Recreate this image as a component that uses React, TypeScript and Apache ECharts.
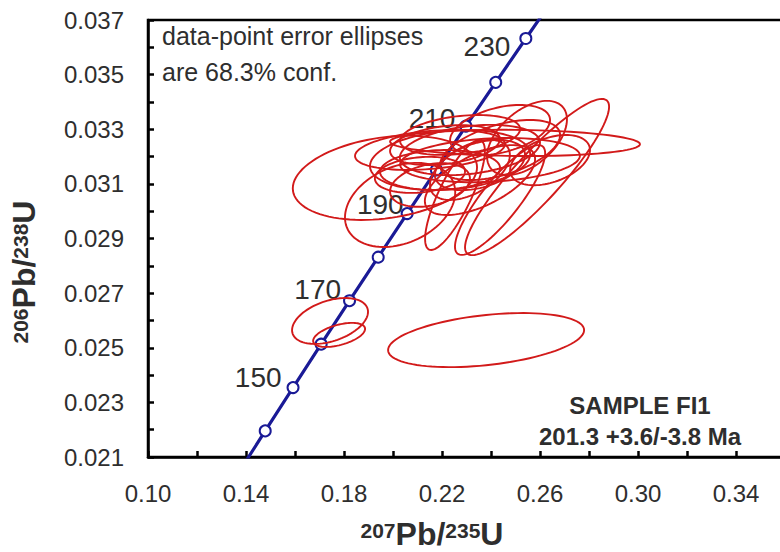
import React, { useEffect, useRef } from 'react';
import * as echarts from 'echarts';

// Concordia curve (age in Ma, 207Pb/235U, 206Pb/238U)
const concordiaAges = [130, 140, 150, 160, 170, 180, 190, 200, 210, 220, 230, 240];
const concordiaX = [0.13659, 0.14784, 0.1592, 0.17067, 0.18226, 0.19396, 0.20577, 0.21771, 0.22976, 0.24193, 0.25422, 0.26664];
const concordiaY = [0.020371, 0.021955, 0.023542, 0.025131, 0.026722, 0.028316, 0.029913, 0.031511, 0.033113, 0.034717, 0.036323, 0.037932];
const labelledAges = [150, 170, 190, 210, 230];

// Error ellipses: centre, half-extent in x and y, correlation
const ellipseCx = [0.238, 0.1743, 0.178, 0.1967, 0.2029, 0.2498, 0.2588, 0.2547, 0.2314, 0.2233, 0.2192, 0.2355, 0.2437, 0.2253, 0.2151, 0.2396, 0.2274, 0.2437, 0.211, 0.2314, 0.2641, 0.2212, 0.2355, 0.2151, 0.2437];
const ellipseCy = [0.02528, 0.02598, 0.02547, 0.03122, 0.03023, 0.0325, 0.03125, 0.03268, 0.03224, 0.03187, 0.03151, 0.03114, 0.03041, 0.03059, 0.03224, 0.03187, 0.03279, 0.03297, 0.03133, 0.03151, 0.03187, 0.03242, 0.03169, 0.03096, 0.03224];
const ellipseSx = [0.04, 0.0155, 0.0106, 0.0376, 0.0225, 0.051, 0.0294, 0.0163, 0.0286, 0.0327, 0.0245, 0.0225, 0.0184, 0.0122, 0.0306, 0.0367, 0.0245, 0.0204, 0.0184, 0.0163, 0.0163, 0.0224, 0.0184, 0.0163, 0.0245];
const ellipseSy = [0.00099, 0.00084, 0.00044, 0.00154, 0.00154, 0.00048, 0.00286, 0.00136, 0.00092, 0.0011, 0.00073, 0.00128, 0.00201, 0.00201, 0.00073, 0.00081, 0.00073, 0.00092, 0.00066, 0.0011, 0.00092, 0.00073, 0.00092, 0.0008, 0.0011];
const ellipseRho = [0.37, 0.4, 0.5, 0.25, 0.3, -0.1, 0.9, 0.5, 0.3, 0.2, 0.1, 0.6, 0.85, 0.8, 0.3, 0.2, 0.3, 0.4, 0.2, 0.5, 0.4, 0.3, 0.4, 0.3, 0.5];

const xTickLabels = ['0.10', '0.14', '0.18', '0.22', '0.26', '0.30', '0.34'];
const yTickLabels = ['0.021', '0.023', '0.025', '0.027', '0.029', '0.031', '0.033', '0.035', '0.037'];

const FONT = 'Liberation Sans, Arial, sans-serif';
const NAVY = '#1a1a96';
const RED = '#d21a1a';
const TEXT = '#2e2e2e';

const labelOffsets: Record<number, [number, number]> = {
  150: [0, -10],
  170: [3, -11],
  190: [8, -9],
  210: [1, -8],
  230: [-4, 8],
};

export default function App() {
  const ref = useRef<HTMLDivElement>(null);
  useEffect(() => {
    document.body.style.margin = '0';
    const chart = echarts.init(ref.current!, null, { renderer: 'svg' });

    const concordiaData = concordiaAges.map((age, i) => {
      const visible = age >= 140 && age <= 230;
      const item: any = { value: [concordiaX[i], concordiaY[i]], symbol: visible ? 'circle' : 'none' };
      if (labelledAges.includes(age)) {
        item.label = {
          show: true,
          formatter: String(age),
          position: 'left',
          distance: 5,
          offset: labelOffsets[age],
          fontSize: 28,
          fontFamily: FONT,
          color: TEXT,
        };
      }
      return item;
    });

    const ellipseData = ellipseCx.map((cx, i) => [cx, ellipseCy[i], ellipseSx[i], ellipseSy[i], ellipseRho[i]]);

    const richName = {
      sup: { fontSize: 21, fontWeight: 'bold', fontFamily: FONT, color: TEXT, verticalAlign: 'top', lineHeight: 16 },
      b: { fontSize: 32, fontWeight: 'bold', fontFamily: FONT, color: TEXT, verticalAlign: 'bottom', lineHeight: 30 },
    };

    chart.setOption({
      animation: false,
      backgroundColor: '#ffffff',
      grid: {
        left: 148,
        top: 20,
        width: 637,
        height: 437,
        outerBoundsMode: 'none',
        containLabel: false,
        show: true,
        borderColor: '#000',
        borderWidth: 2.5,
        backgroundColor: 'transparent',
      },
      xAxis: {
        type: 'value',
        min: 0.1,
        max: 0.36,
        interval: 0.02,
        name: '{sup|207}{b|Pb/}{sup|235}{b|U}',
        nameLocation: 'middle',
        nameGap: 63,
        nameTextStyle: { rich: richName, padding: [0, 69, 0, 0] },
        axisLine: { lineStyle: { color: '#000', width: 2.5 } },
        axisTick: { inside: true, length: 6, lineStyle: { color: '#000', width: 2.5 } },
        splitLine: { show: false },
        axisLabel: {
          margin: 24,
          fontSize: 24,
          fontFamily: FONT,
          color: TEXT,
          formatter: (v: number) => {
            const s = v.toFixed(2);
            return xTickLabels.includes(s) ? s : '';
          },
        },
      },
      yAxis: {
        type: 'value',
        min: 0.021,
        max: 0.037,
        interval: 0.001,
        name: '{sup|206}{b|Pb/}{sup|238}{b|U}',
        nameLocation: 'middle',
        nameRotate: 90,
        nameGap: 108,
        nameTextStyle: { rich: richName, padding: [0, 67, 0, 0] },
        axisLine: { lineStyle: { color: '#000', width: 2.5 } },
        axisTick: { inside: true, length: 6, lineStyle: { color: '#000', width: 2.5 } },
        splitLine: { show: false },
        axisLabel: {
          margin: 24,
          fontSize: 24,
          fontFamily: FONT,
          color: TEXT,
          formatter: (v: number) => {
            const s = v.toFixed(3);
            return yTickLabels.includes(s) ? s : '';
          },
        },
      },
      series: [
        {
          type: 'line',
          z: 2,
          clip: true,
          data: concordiaData,
          symbolSize: 11,
          lineStyle: { color: NAVY, width: 3.2 },
          itemStyle: { color: '#ffffff', borderColor: NAVY, borderWidth: 2 },
          emphasis: { disabled: true },
        },
        {
          type: 'custom',
          z: 3,
          clip: true,
          data: ellipseData,
          encode: { x: 0, y: 1 },
          renderItem: (params: any, api: any) => {
            const cx = api.value(0);
            const cy = api.value(1);
            const a = api.value(2);
            const b = api.value(3);
            const r = api.value(4);
            const s = Math.sqrt(1 - r * r);
            const pts: number[][] = [];
            for (let k = 0; k <= 96; k++) {
              const t = (k / 96) * Math.PI * 2;
              const c = Math.cos(t);
              const sn = Math.sin(t);
              pts.push(api.coord([cx + a * c, cy + b * (r * c + s * sn)]));
            }
            return {
              type: 'polygon',
              shape: { points: pts },
              style: { fill: 'none', stroke: RED, lineWidth: 1.9 },
            };
          },
        },
      ],
      graphic: [
        {
          type: 'text',
          left: 162,
          top: 23,
          style: { text: 'data-point error ellipses', fontSize: 25, fontFamily: FONT, fill: TEXT },
        },
        {
          type: 'text',
          left: 162,
          top: 59,
          style: { text: 'are 68.3% conf.', fontSize: 25, fontFamily: FONT, fill: TEXT },
        },
        {
          type: 'text',
          x: 640,
          y: 405,
          style: { text: 'SAMPLE FI1', fontSize: 24, fontWeight: 'bold', fontFamily: FONT, fill: TEXT, align: 'center', verticalAlign: 'middle' },
        },
        {
          type: 'text',
          x: 640,
          y: 436,
          style: { text: '201.3 +3.6/-3.8 Ma', fontSize: 24, fontWeight: 'bold', fontFamily: FONT, fill: TEXT, align: 'center', verticalAlign: 'middle' },
        },
      ],
    });
    return () => chart.dispose();
  }, []);
  return <div ref={ref} style={{ width: 780, height: 552 }} />;
}
